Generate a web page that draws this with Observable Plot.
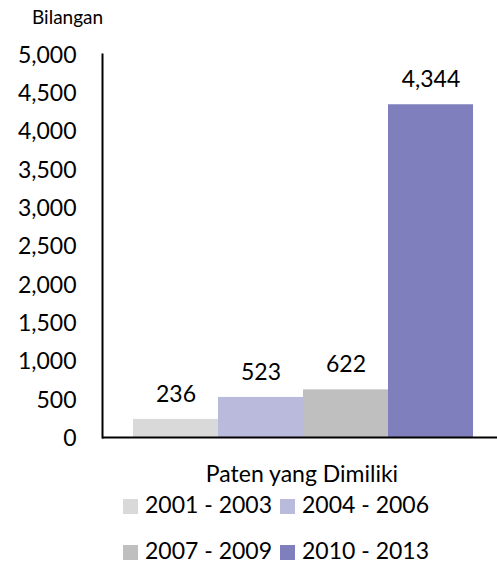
<!DOCTYPE html>
<html>
<head>
<meta charset="utf-8">
<script src="https://cdn.jsdelivr.net/npm/d3@7"></script>
<script src="https://cdn.jsdelivr.net/npm/@observablehq/plot@0.6"></script>
<style>
  body { margin: 0; background: #fff; }
  #wrap { position: relative; width: 497px; height: 564px; overflow: hidden; font-family: Lato, "Open Sans", sans-serif; color: #000; }
  #ytitle { position: absolute; left: 32px; top: 6px; font-size: 19px; line-height: 22px; }
  #cat { position: absolute; left: 0; width: 604px; top: 459px; text-align: center; font-size: 23px; }
  .leg { position: absolute; font-size: 23px; line-height: 18px; white-space: nowrap; }
  .sw { position: absolute; width: 15px; height: 15px; }
  #plot { position: absolute; left: 0; top: 0; }
</style>
</head>
<body>
<div id="wrap">
  <div id="plot"></div>
  <div id="ytitle"></div>
  <div id="cat"></div>
</div>
<script>
const yTitle = "Bilangan";
const category = "Paten yang Dimiliki";
const series = ["2001 - 2003", "2004 - 2006", "2007 - 2009", "2010 - 2013"];
const values = [236, 523, 622, 4344];
const colors = ["#d9d9d9", "#babadc", "#bfbfbf", "#7f7fbd"];
const yTicks = [0, 500, 1000, 1500, 2000, 2500, 3000, 3500, 4000, 4500, 5000];

const data = series.map((s, i) => ({series: s, value: values[i]}));
const fmt = d3.format(",");

const chart = Plot.plot({
  width: 497,
  height: 450,
  marginLeft: 102,
  marginRight: 0,
  marginTop: 54,
  marginBottom: 13,
  style: {fontFamily: "Lato, 'Open Sans', sans-serif", fontSize: "23px", color: "#000", background: "transparent"},
  x: {type: "band", domain: series, range: [133, 473], padding: 0, axis: null},
  y: {domain: [0, 5000], ticks: yTicks, tickFormat: fmt, label: null},
  color: {domain: series, range: colors},
  marks: [
    Plot.barY(data, {x: "series", y: "value", fill: "series"}),
    Plot.text(data, {x: "series", y: "value", text: d => fmt(d.value), dy: -25, fontSize: 23, fill: "#000"}),
    Plot.axisY({ticks: yTicks, tickFormat: fmt, tickSize: 0, tickPadding: 26, fontSize: 23, label: null, dy: 1}),
    Plot.frame({anchor: "left", stroke: "#000", strokeWidth: 2}),
    Plot.ruleY([0], {stroke: "#000", strokeWidth: 2})
  ]
});
document.getElementById("plot").appendChild(chart);
document.getElementById("ytitle").textContent = yTitle;
document.getElementById("cat").textContent = category;

const wrap = document.getElementById("wrap");
series.forEach((s, i) => {
  const col = i % 2, row = Math.floor(i / 2);
  const left = 123 + col * 157, top = 499 + row * 46;
  const sw = document.createElement("div");
  sw.className = "sw";
  sw.style.left = left + "px";
  sw.style.top = top + "px";
  sw.style.background = colors[i];
  wrap.appendChild(sw);
  const t = document.createElement("div");
  t.className = "leg";
  t.style.left = (left + 22) + "px";
  t.style.top = (top - 4) + "px";
  t.textContent = s;
  wrap.appendChild(t);
});
</script>
</body>
</html>
